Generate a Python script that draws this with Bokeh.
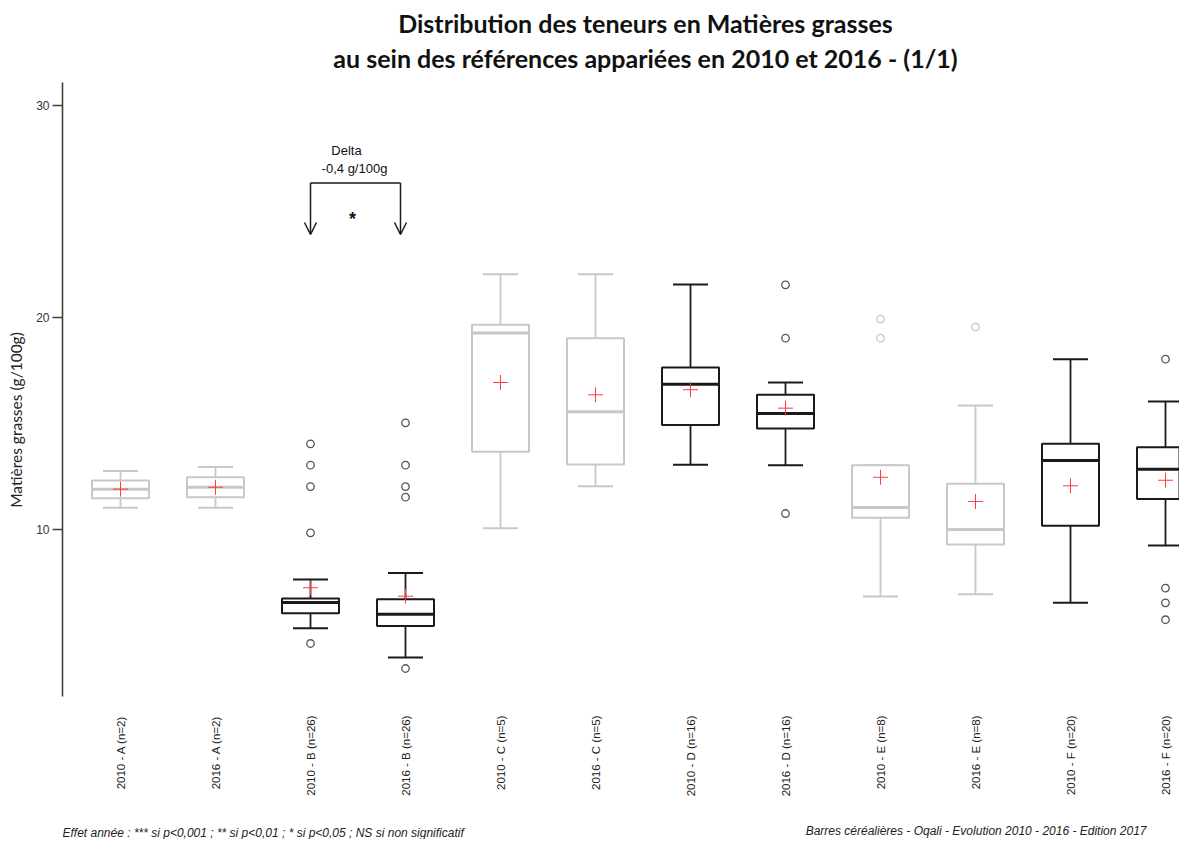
import math
from bokeh.plotting import figure
from bokeh.models import Range1d, FixedTicker, Arrow, OpenHead
from bokeh.core.properties import value
from bokeh.embed import file_html
from bokeh.resources import INLINE

# ---------------- data ----------------
categories = ["2010 - A (n=2)", "2016 - A (n=2)", "2010 - B (n=26)", "2016 - B (n=26)",
              "2010 - C (n=5)", "2016 - C (n=5)", "2010 - D (n=16)", "2016 - D (n=16)",
              "2010 - E (n=8)", "2016 - E (n=8)", "2010 - F (n=20)", "2016 - F (n=20)"]
groups = ["A", "A", "B", "B", "C", "C", "D", "D", "E", "E", "F", "F"]
whisker_low = [11.00, 11.00, 5.32, 3.94, 10.04, 12.02, 13.03, 13.01, 6.82, 6.92, 6.52, 9.22]
q1 = [11.45, 11.50, 6.03, 5.42, 13.64, 13.04, 14.91, 14.74, 10.53, 9.27, 10.15, 11.42]
median = [11.88, 11.97, 6.53, 5.98, 19.25, 15.53, 16.83, 15.45, 11.01, 9.98, 13.23, 12.82]
q3 = [12.29, 12.44, 6.72, 6.69, 19.63, 19.00, 17.62, 16.33, 13.01, 12.13, 14.02, 13.86]
whisker_high = [12.73, 12.92, 7.62, 7.92, 22.02, 22.02, 21.53, 16.91, 13.01, 15.83, 18.01, 16.01]
means = [11.88, 11.97, 7.23, 6.83, 16.91, 16.33, 16.57, 15.70, 12.44, 11.30, 12.04, 12.30]
outliers = {
    "2010 - B (n=26)": [14.02, 13.01, 12.00, 9.82, 4.60],
    "2016 - B (n=26)": [15.01, 13.01, 12.00, 11.50, 3.42],
    "2016 - D (n=16)": [21.52, 19.00, 10.73],
    "2010 - E (n=8)": [19.90, 19.00],
    "2016 - E (n=8)": [19.52],
    "2016 - F (n=20)": [18.01, 7.21, 6.52, 5.72],
}
y_ticks = [10, 20, 30]
delta_text = ["Delta", "-0,4 g/100g"]
signif_text = "*"
title_lines = ["Distribution des teneurs en Matières grasses",
               "au sein des références appariées en 2010 et 2016 - (1/1)"]
y_label = "Matières grasses (g/100g)"
source_text = "Barres céréalières - Oqali - Evolution 2010 - 2016 - Edition 2017"
legend_text = "Effet année : *** si p<0,001 ; ** si p<0,01 ; * si p<0,05 ; NS si non significatif"

# ---------------- layout helpers (pixels -> data) ----------------
W, H = 1179, 839
LEFT = 62


def X(px):
    return 1 + (px - 120) / 95.0


def Y(py):
    return 10 + (528.5 - py) / 21.2


GRAY = "#c8c8c8"
BLACK = "#1a1a1a"
gray_groups = {"A", "C", "E"}
colors = [GRAY if g in gray_groups else BLACK for g in groups]
out_colors_map = [GRAY if g in gray_groups else "#555555" for g in groups]
xs = list(range(1, len(categories) + 1))

p = figure(width=W, height=H, output_backend="svg", toolbar_location=None,
           x_range=Range1d(X(LEFT), X(W)), y_range=Range1d(Y(H), Y(0)),
           x_axis_location=None, min_border_left=LEFT, min_border_right=0,
           min_border_top=0, min_border_bottom=0)
p.outline_line_color = None
p.grid.visible = False
p.background_fill_color = "white"
p.border_fill_color = "white"

yax = p.yaxis[0]
yax.ticker = FixedTicker(ticks=y_ticks)
yax.bounds = (Y(695.5), Y(82))
yax.axis_line_color = "#404040"
yax.axis_line_width = 1.6
yax.major_tick_line_color = "#404040"
yax.major_tick_line_width = 1.3
yax.major_tick_out = 10
yax.major_tick_in = 0
yax.minor_tick_out = 0
yax.minor_tick_in = 0
yax.major_label_standoff = 3
yax.major_label_text_font = "Liberation Sans"
yax.major_label_text_font_size = "12px"
yax.major_label_text_color = "#333333"
yax.axis_label = y_label
yax.axis_label_text_font = "Lato"
yax.axis_label_text_font_style = "normal"
yax.axis_label_text_font_size = "15.5px"
yax.axis_label_text_color = "#222222"
yax.axis_label_standoff = 8

BOXW = 57 / 95.0
CAPW = 35 / 95.0

# whiskers
p.segment(x0=xs, y0=q3, x1=xs, y1=whisker_high, line_color=colors, line_width=1.8)
p.segment(x0=xs, y0=q1, x1=xs, y1=whisker_low, line_color=colors, line_width=1.8)
# caps
p.segment(x0=[x - CAPW / 2 for x in xs], y0=whisker_high, x1=[x + CAPW / 2 for x in xs],
          y1=whisker_high, line_color=colors, line_width=2)
p.segment(x0=[x - CAPW / 2 for x in xs], y0=whisker_low, x1=[x + CAPW / 2 for x in xs],
          y1=whisker_low, line_color=colors, line_width=2)
# boxes
p.vbar(x=xs, width=BOXW, top=q3, bottom=q1, fill_color="white", line_color=colors, line_width=2)
# medians
p.segment(x0=[x - BOXW / 2 for x in xs], y0=median, x1=[x + BOXW / 2 for x in xs],
          y1=median, line_color=colors, line_width=3)
# outliers
ox, oy, oc = [], [], []
for i, c in enumerate(categories):
    for v in outliers.get(c, []):
        ox.append(xs[i])
        oy.append(v)
        oc.append(out_colors_map[i])
p.scatter(x=ox, y=oy, marker="circle", size=7.5, fill_color=None, line_color=oc, line_width=1.3)
# means
p.scatter(x=xs, y=means, marker="cross", size=15, line_color="#ff3b3b", line_width=1)

# x tick labels (vertical)
p.text(x=xs, y=[Y(715)] * len(xs), text=categories, angle=math.pi / 2,
       text_align="right", text_baseline="middle", text_font=value("Liberation Sans"),
       text_font_size="11.5px", text_color="#222222")

# significance bracket
p.segment(x0=[X(310)], y0=[Y(182.5)], x1=[X(400)], y1=[Y(182.5)], line_color=BLACK, line_width=1.5)
for ax in (310, 400):
    p.add_layout(Arrow(end=OpenHead(size=12, line_width=1.5, line_color=BLACK),
                       x_start=X(ax), y_start=Y(182.5), x_end=X(ax), y_end=Y(234),
                       line_color=BLACK, line_width=1.5))
p.text(x=[X(346), X(354)], y=[Y(150), Y(168)], text=delta_text, text_align="center",
       text_baseline="middle", text_font=value("Liberation Sans"), text_font_size="13px",
       text_color="#111111")
p.text(x=[X(352)], y=[Y(218)], text=[signif_text], text_align="center",
       text_baseline="alphabetic", text_font=value("Liberation Sans"), text_font_size="18px",
       text_font_style="bold", text_color="#111111")

# titles
p.text(x=[X(645), X(645)], y=[Y(22), Y(57)], text=title_lines, text_align="center",
       text_baseline="middle", text_font=value("Lato"), text_font_size="25px",
       text_font_style="bold", text_color="#111111")

# footers
p.text(x=[X(1146)], y=[Y(830)], text=[source_text], text_align="right", text_baseline="middle",
       text_font=value("Liberation Sans"), text_font_size="12px", text_font_style="italic",
       text_color="#222222")
p.text(x=[X(62)], y=[Y(832)], text=[legend_text], text_align="left", text_baseline="middle",
       text_font=value("Liberation Sans"), text_font_size="12px", text_font_style="italic",
       text_color="#222222")

open("out.html", "w").write(file_html(p, INLINE))
